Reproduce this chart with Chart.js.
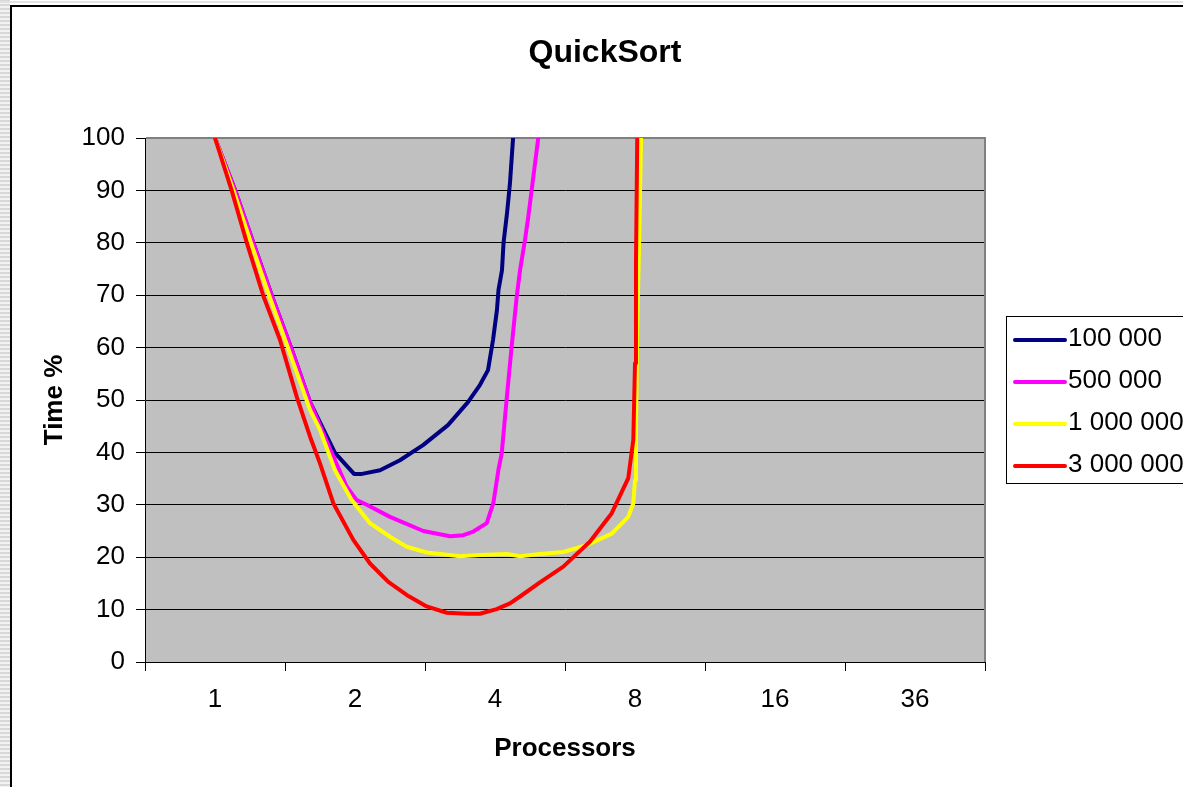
<!DOCTYPE html>
<html><head><meta charset="utf-8">
<script src="https://cdn.jsdelivr.net/npm/chart.js@4.4.1/dist/chart.umd.min.js"></script>
<style>
html,body{margin:0;padding:0;background:#fff;overflow:hidden;width:1183px;height:787px;}
#stripes{position:absolute;left:0;top:0;width:10px;height:787px;background:repeating-linear-gradient(to bottom,#d8d8d8 0,#d8d8d8 2px,#f2f2f2 2px,#f2f2f2 4px);}
#topline{position:absolute;left:0;top:1px;width:1183px;height:2px;background:#e2e2e2;}
#frame{position:absolute;left:10px;top:5px;width:1400px;height:1000px;border-left:2px solid #000;border-top:2px solid #000;pointer-events:none;}
#c{position:absolute;left:0;top:0;}
</style></head><body>
<div id="stripes"></div><div id="topline"></div>
<canvas id="c" width="1210" height="787"></canvas>
<div id="frame"></div>
<script>
// Category tick labels (processors); positions 0..5 on the x axis
const categories = ['1', '2', '4', '8', '16', '36'];
const seriesNames = ['100 000', '500 000', '1 000 000', '3 000 000'];

// 100 000
const blueX = [0, 0.143, 0.271, 0.407, 0.55, 0.679, 0.857, 0.993, 1.05, 1.179, 1.321, 1.486, 1.664, 1.807, 1.893, 1.95, 1.986, 2.014, 2.025, 2.05, 2.061, 2.086, 2.107, 2.129];
const blueY = [100, 90.1, 80.2, 69.8, 59.5, 49.6, 39.9, 35.9, 35.9, 36.6, 38.5, 41.4, 45.2, 49.6, 52.9, 55.7, 61.5, 67.2, 71, 74.8, 80, 85.7, 91.4, 100];
// 500 000
const magentaX = [0, 0.143, 0.271, 0.407, 0.55, 0.679, 0.8, 0.94, 1.012, 1.084, 1.25, 1.488, 1.679, 1.774, 1.845, 1.941, 1.988, 2.024, 2.048, 2.084, 2.119, 2.155, 2.179, 2.214, 2.238, 2.262, 2.286, 2.309];
const magentaY = [100, 90.1, 80.2, 69.8, 59.5, 49.6, 42, 33.5, 30.9, 30.0, 27.7, 25.0, 24.0, 24.2, 24.9, 26.5, 30.3, 36.6, 39.8, 50.4, 60.2, 69.7, 74.8, 80.5, 85, 90.1, 95.2, 100];
// 1 000 000
const yellowX = [0, 0.132, 0.257, 0.386, 0.521, 0.679, 0.75, 0.857, 0.976, 1.107, 1.25, 1.369, 1.512, 1.75, 1.893, 2.084, 2.179, 2.321, 2.488, 2.655, 2.834, 2.952, 2.988, 3.0, 3.007, 3.016, 3.031, 3.043];
const yellowY = [100, 90, 80, 70, 60, 48.1, 44.3, 36.6, 30.9, 26.5, 23.9, 22.0, 20.9, 20.2, 20.4, 20.6, 20.2, 20.6, 21.0, 22.3, 24.5, 27.7, 30.3, 34.7, 44.3, 63.4, 82.4, 100];
// 3 000 000
const redX = [0, 0.119, 0.226, 0.345, 0.464, 0.584, 0.679, 0.75, 0.845, 0.988, 1.107, 1.238, 1.369, 1.512, 1.655, 1.798, 1.893, 2.012, 2.107, 2.179, 2.321, 2.488, 2.679, 2.834, 2.952, 2.988, 3.0, 3.007, 3.016];
const redY = [100, 90, 80.1, 69.9, 61.5, 50.6, 43, 37.9, 30.3, 23.3, 18.8, 15.3, 12.8, 10.6, 9.4, 9.2, 9.2, 10.1, 11.2, 12.5, 15.2, 18.2, 23.0, 28.4, 35.1, 42.4, 57, 76, 100];

const yTicks = [0, 10, 20, 30, 40, 50, 60, 70, 80, 90, 100];

function pts(xs, ys) { return xs.map((x, i) => ({x: x, y: ys[i]})); }

const FONT = '"Liberation Sans", Arial, sans-serif';

const plotBg = {
  id: 'plotBg',
  beforeDraw(chart) {
    const {ctx, chartArea: a} = chart;
    ctx.save();
    ctx.fillStyle = '#C0C0C0';
    ctx.fillRect(a.left, a.top, a.right - a.left, a.bottom - a.top);
    ctx.restore();
  },
  beforeDatasetsDraw(chart) {
    const {ctx, chartArea: a} = chart;
    ctx.save();
    ctx.strokeStyle = '#808080';
    ctx.lineWidth = 2;
    ctx.beginPath();
    ctx.moveTo(a.left + 1, a.top);
    ctx.lineTo(a.right, a.top);
    ctx.lineTo(a.right, a.bottom);
    ctx.stroke();
    ctx.restore();
  }
};

const boxLegend = {
  id: 'boxLegend',
  afterDraw(chart, args, o) {
    const {ctx} = chart;
    ctx.save();
    ctx.strokeStyle = '#000';
    ctx.lineWidth = 1;
    ctx.strokeRect(o.left + 0.5, o.top + 0.5, o.width, o.height);
    ctx.font = o.fontSize + 'px ' + FONT;
    ctx.textBaseline = 'middle';
    ctx.textAlign = 'left';
    chart.data.datasets.forEach((ds, i) => {
      const y = o.firstY + i * o.step;
      ctx.strokeStyle = ds.borderColor;
      ctx.lineWidth = 4;
      ctx.lineCap = 'round';
      ctx.beginPath();
      ctx.moveTo(o.lineX0, y);
      ctx.lineTo(o.lineX1, y);
      ctx.stroke();
      ctx.fillStyle = '#000';
      ctx.fillText(ds.label, o.textX, y - 1);
    });
    ctx.restore();
  }
};

const colors = ['#000080', '#FF00FF', '#FFFF00', '#FF0000'];
const xsAll = [blueX, magentaX, yellowX, redX];
const ysAll = [blueY, magentaY, yellowY, redY];

new Chart(document.getElementById('c'), {
  type: 'line',
  data: {
    datasets: seriesNames.map((name, i) => ({
      label: name,
      data: pts(xsAll[i], ysAll[i]),
      borderColor: colors[i],
      backgroundColor: colors[i],
      borderWidth: 4,
      pointRadius: 0,
      tension: 0,
      fill: false,
      borderJoinStyle: 'round',
      borderCapStyle: 'round',
      order: 4 - i
    }))
  },
  options: {
    responsive: false,
    animation: false,
    devicePixelRatio: 1,
    layout: {padding: {left: 0, right: 0, top: 0, bottom: 0}},
    plugins: {
      legend: {display: false},
      tooltip: {enabled: false},
      title: {
        display: true,
        text: 'QuickSort',
        color: '#000',
        font: {family: FONT, size: 32, weight: 'bold', lineHeight: 1.2},
        padding: {top: 34, bottom: 65.6}
      },
      boxLegend: {
        left: 1006, top: 316, width: 200, height: 167,
        firstY: 340, step: 42,
        lineX0: 1015, lineX1: 1065, textX: 1068, fontSize: 26
      }
    },
    scales: {
      x: {
        type: 'linear',
        min: -0.5,
        max: 5.5,
        afterFit(scale) { scale.height = 125; },
        afterBuildTicks(scale) {
          const t = [];
          for (let i = 0; i <= 12; i++) t.push({value: -0.5 + i * 0.5});
          scale.ticks = t;
        },
        grid: {
          drawOnChartArea: false,
          drawTicks: true,
          tickLength: 9,
          lineWidth: 1,
          color: (c) => (c.tick && Number.isInteger(c.tick.value)) ? 'rgba(0,0,0,0)' : '#000'
        },
        border: {display: true, color: '#000', width: 1},
        ticks: {
          autoSkip: false,
          maxRotation: 0,
          minRotation: 0,
          padding: 13,
          color: '#000',
          font: {family: FONT, size: 26},
          callback: (v) => Number.isInteger(v) ? categories[v] : ''
        },
        title: {
          display: true,
          text: 'Processors',
          color: '#000',
          font: {family: FONT, size: 26, weight: 'bold', lineHeight: 1.2},
          padding: {top: 0, bottom: 23}
        }
      },
      y: {
        type: 'linear',
        position: 'left',
        min: 0,
        max: 100,
        afterFit(scale) { scale.width = 145; },
        afterBuildTicks(scale) { scale.ticks = yTicks.map(v => ({value: v})); },
        grid: {
          drawOnChartArea: true,
          drawTicks: true,
          tickLength: 9,
          lineWidth: 1,
          color: '#000'
        },
        border: {display: true, color: '#000', width: 1},
        ticks: {
          padding: 11,
          color: '#000',
          font: {family: FONT, size: 26}
        },
        title: {
          display: true,
          text: 'Time %',
          color: '#000',
          font: {family: FONT, size: 26, weight: 'bold', lineHeight: 1.2},
          padding: {top: 39, bottom: 0}
        }
      },
      legendSpace: {
        type: 'linear',
        position: 'right',
        display: true,
        min: 0,
        max: 100,
        afterFit(scale) { scale.width = 225; },
        grid: {display: false, drawOnChartArea: false},
        border: {display: false},
        ticks: {display: false},
        title: {display: false}
      }
    }
  },
  plugins: [plotBg, boxLegend]
});
</script>
</body></html>
